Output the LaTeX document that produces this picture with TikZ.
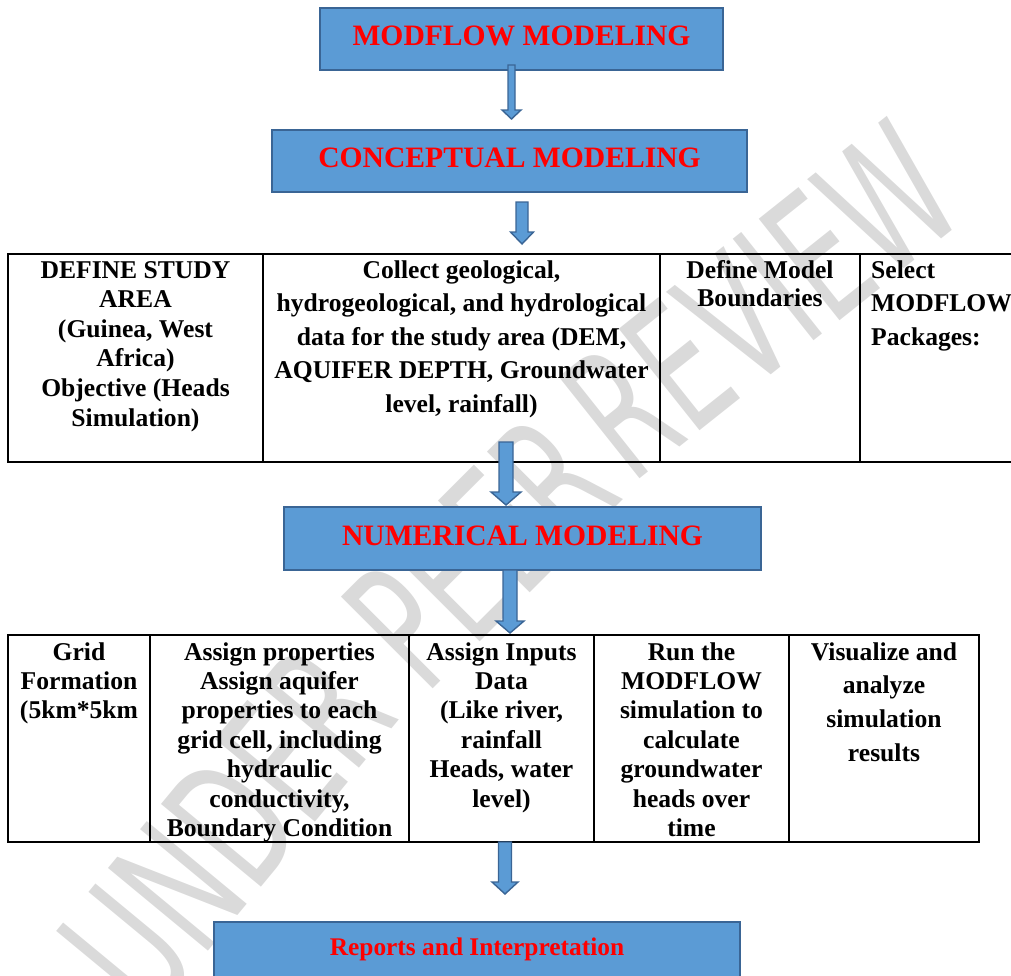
\documentclass[tikz,border=0pt]{standalone}
\usepackage{fontspec}
\usepackage{graphicx}
\setmainfont{Liberation Serif}
\newfontfamily\wmfont{DejaVu Sans}
\usetikzlibrary{calc}
\definecolor{boxfill}{RGB}{91,155,213}
\definecolor{boxborder}{RGB}{58,101,149}
\definecolor{wmgray}{RGB}{218,218,218}
\definecolor{hdrred}{RGB}{255,0,0}
\newcommand\cellc[2]{{\fontsize{25.6}{#1}\selectfont\begin{tabular}[t]{@{}c@{}}#2\end{tabular}}}
\newcommand\celll[2]{{\fontsize{25.6}{#1}\selectfont\begin{tabular}[t]{@{}l@{}}#2\end{tabular}}}
\newcommand\blockarrow[5]{%
  \path[blockarr] ($(#1)+(-#3,0)$) -- ($(#1)+(#3,0)$) -- ($(#2)+(#3,-#5)$) -- ($(#2)+(#4,-#5)$) -- (#2) -- ($(#2)+(-#4,-#5)$) -- ($(#2)+(-#3,-#5)$) -- cycle;}
\tikzset{
  wm/.style={font=\wmfont\fontsize{178}{178}\selectfont, text=wmgray, inner sep=0},
  hdrbox/.style={draw=boxborder, line width=2pt, fill=boxfill, inner sep=0, anchor=center},
  hdrtext/.style={font=\bfseries\fontsize{29.6}{32}\selectfont, text=hdrred, inner sep=0, anchor=base},
  reptext/.style={font=\bfseries\fontsize{25.4}{28}\selectfont, text=hdrred, inner sep=0, anchor=base},
  celltext/.style={font=\bfseries, text=black, inner sep=0, anchor=base},
  tbl/.style={line width=1.8pt, black, line cap=rect},
  blockarr/.style={draw=boxborder, line width=1.4pt, fill=boxfill, line join=miter},
}
\begin{document}
\begin{tikzpicture}[x=1pt,y=-1pt]
\useasboundingbox (0,0) rectangle (1011,975);
% watermark
\node[wm, rotate=50.4] (wm1) at (227,829) {\scalebox{0.62}[1]{UNDER}};
\node[wm, rotate=45] (wm2) at (480,551) {\scalebox{0.62}[1]{PEER}};
\node[wm, rotate=38.5] (wm3) at (761,300) {\scalebox{0.62}[1]{REVIEW}};
% table 1
\draw[tbl] (1020,254) -- (8,254) -- (8,462) -- (1020,462);
\draw[tbl] (263,254) -- (263,462);
\draw[tbl] (660,254) -- (660,462);
\draw[tbl] (860,254) -- (860,462);
% table 2
\draw[tbl] (8,635) rectangle (979,842);
\draw[tbl] (150,635) -- (150,842);
\draw[tbl] (409,635) -- (409,842);
\draw[tbl] (594,635) -- (594,842);
\draw[tbl] (789,635) -- (789,842);
% header boxes
\node[hdrbox, minimum width=403, minimum height=62] (b1) at (521.5,39) {};
\node[hdrbox, minimum width=475, minimum height=62] (b2) at (509.5,161) {};
\node[hdrbox, minimum width=477, minimum height=63] (b3) at (522.5,538.5) {};
\node[hdrbox, minimum width=526, minimum height=78] (b4) at (477,961) {};
% arrows
\coordinate (a1s) at (511.5,65);  \coordinate (a1t) at (511.5,119);
\coordinate (a2s) at (522,202);   \coordinate (a2t) at (522,244);
\coordinate (a3s) at (506,442);   \coordinate (a3t) at (506,505);
\coordinate (a4s) at (510,570);   \coordinate (a4t) at (510,633);
\coordinate (a5s) at (505,842);   \coordinate (a5t) at (505,894);
\blockarrow{a1s}{a1t}{3.5}{9.5}{9}
\blockarrow{a2s}{a2t}{6}{11.5}{12}
\blockarrow{a3s}{a3t}{7}{15}{13}
\blockarrow{a4s}{a4t}{7}{14}{12}
\blockarrow{a5s}{a5t}{6.5}{13}{12}
% header texts
\node[hdrtext] (t1) at (521.5,45) {MODFLOW MODELING};
\node[hdrtext] (t2) at (509.5,167) {CONCEPTUAL MODELING};
\node[hdrtext] (t3) at (522.5,545) {NUMERICAL MODELING};
\node[reptext] (t4) at (477,955) {Reports and Interpretation};
% table 1 texts
\node[celltext] (c11) at (135.5,278) {\cellc{29.6}{DEFINE STUDY\\AREA\\(Guinea, West\\Africa)\\Objective (Heads\\Simulation)}};
\node[celltext] (c12) at (461.5,278) {\cellc{33.6}{Collect geological,\\hydrogeological, and hydrological\\data for the study area (DEM,\\AQUIFER DEPTH, Groundwater\\level, rainfall)}};
\node[celltext] (c13) at (760,278) {\cellc{28.5}{Define Model\\Boundaries}};
\node[celltext, anchor=base west] (c14) at (871,278) {\celll{33.7}{Select\\MODFLOW\\Packages:}};
% table 2 texts
\node[celltext] (c21) at (79,660) {\cellc{29.4}{Grid\\Formation\\(5km*5km}};
\node[celltext] (c22) at (279.5,660) {\cellc{29.4}{Assign properties\\Assign aquifer\\properties to each\\grid cell, including\\hydraulic\\conductivity,\\Boundary Condition}};
\node[celltext] (c23) at (501.5,660) {\cellc{29.4}{Assign Inputs\\Data\\(Like river,\\rainfall\\Heads, water\\level)}};
\node[celltext] (c24) at (691.5,660) {\cellc{29.4}{Run the\\MODFLOW\\simulation to\\calculate\\groundwater\\heads over\\time}};
\node[celltext] (c25) at (884,660) {\cellc{33.7}{Visualize and\\analyze\\simulation\\results}};
\end{tikzpicture}
\end{document}
